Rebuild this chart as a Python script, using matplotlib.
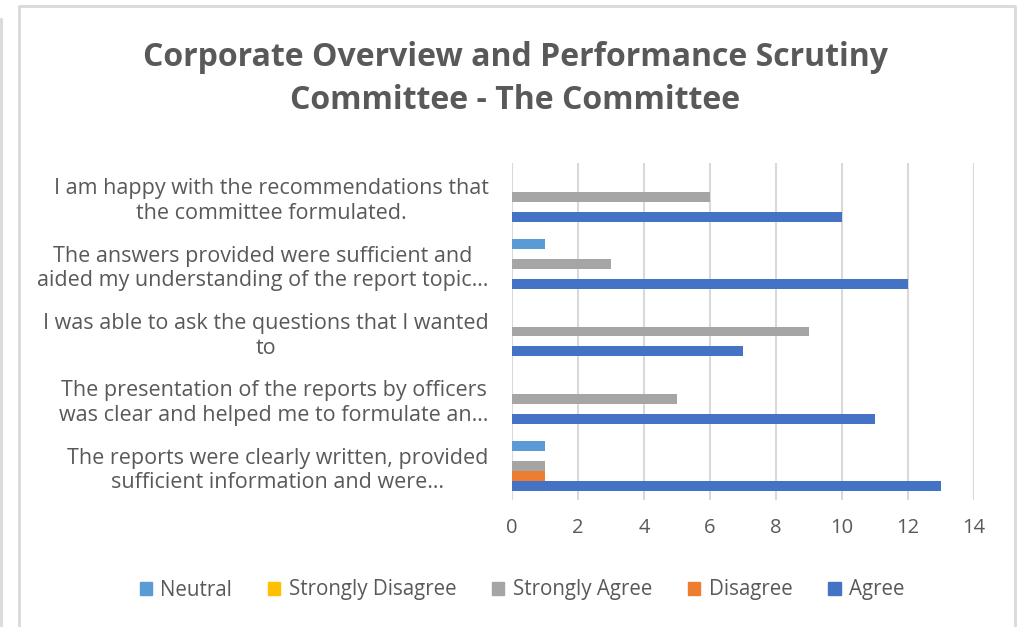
import matplotlib.pyplot as plt
import numpy as np
from matplotlib.lines import Line2D

# categories listed bottom to top (Excel order)
categories = [
    "The reports were clearly written, provided\nsufficient information and were…",
    "The presentation of the reports by officers\nwas clear and helped me to formulate an…",
    "I was able to ask the questions that I wanted\nto",
    "The answers provided were sufficient and\naided my understanding of the report topic…",
    "I am happy with the recommendations that\nthe committee formulated.",
]

# series, bottom bar of each group first
series_names = ["Agree", "Disagree", "Strongly Agree", "Strongly Disagree", "Neutral"]
agree = [13, 11, 7, 12, 10]
disagree = [1, 0, 0, 0, 0]
strongly_agree = [1, 5, 9, 3, 6]
strongly_disagree = [0, 0, 0, 0, 0]
neutral = [1, 0, 0, 1, 0]
values = [agree, disagree, strongly_agree, strongly_disagree, neutral]
colors = ["#4472C4", "#ED7D31", "#A5A5A5", "#FFC000", "#5B9BD5"]

legend_order = ["Neutral", "Strongly Disagree", "Strongly Agree", "Disagree", "Agree"]

plt.rcParams['font.family'] = ['Open Sans', 'DejaVu Sans']
text_col = "#595959"

fig = plt.figure(figsize=(10.21, 6.27), dpi=100)
ax = fig.add_axes([512 / 1021, 127 / 627, 462 / 1021, 337 / 627])

y = np.arange(len(categories))
h = 0.148
for i, (name, vals, c) in enumerate(zip(series_names, values, colors)):
    ax.barh(y + (i - 2) * h, vals, height=h, color=c, label=name, zorder=3)

ax.set_xlim(0, 14)
ax.set_ylim(-0.5, 4.5)
ax.set_xticks(range(0, 15, 2))
ax.set_yticks(y)
ax.set_yticklabels(categories, fontsize=15.5, color=text_col, ha='right',
                   multialignment='center', linespacing=1.22)
ax.tick_params(axis='x', length=0, labelsize=14.5, labelcolor=text_col, pad=13)
ax.tick_params(axis='y', length=0, pad=17)
ax.grid(axis='x', color='#d9d9d9', linewidth=1.5, zorder=0)
for s in ax.spines.values():
    s.set_visible(False)

fig.text(515 / 1021, 1 - 79 / 627,
         "Corporate Overview and Performance Scrutiny\nCommittee - The Committee",
         ha='center', va='center', fontsize=23, fontweight='bold', color=text_col,
         linespacing=1.42)

handles = {n: plt.Rectangle((0, 0), 1, 1, color=c) for n, c in zip(series_names, colors)}
fig.legend([handles[n] for n in legend_order], legend_order, loc='center',
           bbox_to_anchor=(522 / 1021, 1 - 590 / 627), ncol=5, frameon=False,
           fontsize=14.8, labelcolor=text_col, handlelength=0.6, handleheight=0.6,
           handletextpad=0.4, columnspacing=1.75)

# chart border lines
bc = '#d9d9d9'
fig.add_artist(Line2D([19 / 1021, 19 / 1021, 1015 / 1021, 1015 / 1021],
                      [0, 1 - 6 / 627, 1 - 6 / 627, 0], color=bc, linewidth=2))
fig.add_artist(Line2D([1 / 1021, 1 / 1021], [0, 1 - 19 / 627], color=bc, linewidth=2))

fig.savefig('out.png', dpi=100)
